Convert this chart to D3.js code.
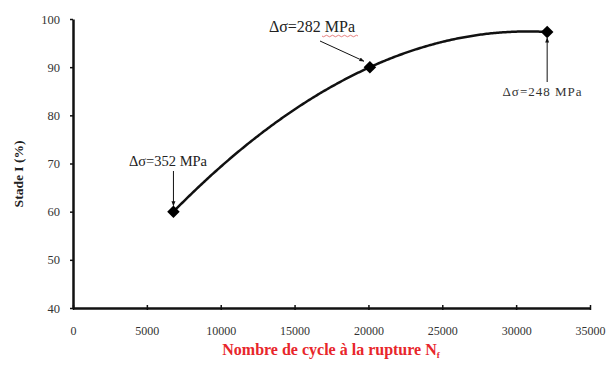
<!DOCTYPE html>
<html>
<head>
<meta charset="utf-8">
<script src="https://cdn.jsdelivr.net/npm/d3@7"></script>
<style>
  body { margin: 0; background: #fff; }
  svg text { font-family: "Liberation Serif", "Times New Roman", serif; }
</style>
</head>
<body>
<svg id="chart" width="607" height="365"></svg>
<script>
// data
const cycles = [6800, 20100, 32100];
const stage = [60, 90, 97.3];
const labels = ["\u0394\u03c3=352 MPa", "\u0394\u03c3=282 MPa", "\u0394\u03c3=248 MPa"];
const xTicks = [0, 5000, 10000, 15000, 20000, 25000, 30000, 35000];
const yTicks = [40, 50, 60, 70, 80, 90, 100];

const svg = d3.select("#chart");
const x = d3.scaleLinear().domain([0, 35000]).range([73, 590]);
const y = d3.scaleLinear().domain([40, 100]).range([308, 19]);

// axes
const xAxis = svg.append("g").attr("transform", `translate(0,${y(40)})`)
  .call(d3.axisBottom(x).tickValues(xTicks).tickFormat(d3.format("d"))
    .tickSize(4).tickSizeOuter(0).tickPadding(14));
const yAxis = svg.append("g").attr("transform", `translate(${x(0)},0)`)
  .call(d3.axisLeft(y).tickValues(yTicks).tickSize(3).tickSizeOuter(0).tickPadding(10));
[xAxis, yAxis].forEach(a => {
  a.select(".domain").attr("stroke", "#111").attr("stroke-width", 2.5);
  a.selectAll(".tick line").attr("stroke", "#111").attr("stroke-width", 1.5);
  a.selectAll(".tick text").attr("font-size", 12).attr("fill", "#333")
    .attr("font-family", "'Liberation Sans', Arial, sans-serif");
});
xAxis.selectAll(".tick line").attr("y1", -3).attr("y2", 2);
yAxis.selectAll(".tick text").attr("font-family", "'Liberation Serif', serif").attr("font-size", 12.5);

// axis titles
svg.append("text")
  .attr("transform", `translate(23,174) rotate(-90)`)
  .attr("text-anchor", "middle").attr("font-size", 13.5).attr("font-weight", "bold")
  .attr("fill", "#222").text("Stade I  (%)");
const xt = svg.append("text").attr("x", 331).attr("y", 355)
  .attr("text-anchor", "middle").attr("font-size", 16).attr("font-weight", "bold")
  .attr("fill", "#e8262b").text("Nombre de cycle \u00e0 la rupture N");
xt.append("tspan").attr("font-size", 9).attr("dy", 3).text("f");

// arrow marker
svg.append("defs").append("marker").attr("id", "arr")
  .attr("viewBox", "0 0 10 10").attr("refX", 9).attr("refY", 5)
  .attr("markerWidth", 5).attr("markerHeight", 5).attr("orient", "auto")
  .append("path").attr("d", "M0,1L10,5L0,9z").attr("fill", "#111");

// 2nd order polynomial trendline through the three points (as in the original)
const pts = cycles.map((c, i) => [c, stage[i]]);
function quad(xv) {
  // Lagrange form of the parabola through the data points
  let s = 0;
  for (let i = 0; i < 3; i++) {
    let t = stage[i];
    for (let j = 0; j < 3; j++) if (j !== i) t *= (xv - cycles[j]) / (cycles[i] - cycles[j]);
    s += t;
  }
  return s;
}
const trend = d3.range(cycles[0], cycles[2] + 1, 100).map(c => [c, quad(c)]);
svg.append("path").datum(trend)
  .attr("d", d3.line().x(d => x(d[0])).y(d => y(d[1])))
  .attr("fill", "none").attr("stroke", "#111").attr("stroke-width", 2.5);

// diamonds
svg.selectAll("path.pt").data(pts).join("path").attr("class", "pt")
  .attr("d", d3.symbol(d3.symbolDiamond2, 100)())
  .attr("transform", d => `translate(${x(d[0])},${y(d[1])})`)
  .attr("fill", "#000");

// annotations
const ann = svg.append("g");
// 352
ann.append("text").attr("x", 168).attr("y", 166).attr("text-anchor", "middle")
  .attr("font-size", 14.5).attr("fill", "#222").text(labels[0]);
ann.append("line").attr("x1", x(cycles[0])).attr("y1", 171)
  .attr("x2", x(cycles[0])).attr("y2", y(stage[0]) - 6)
  .attr("stroke", "#111").attr("stroke-width", 1).attr("marker-end", "url(#arr)");
// 282
ann.append("text").attr("x", 312).attr("y", 32).attr("text-anchor", "middle")
  .attr("font-size", 16).attr("fill", "#222").text(labels[1]);
ann.append("path").attr("d", "M322,36 q1.5,1.5 3,0 t3,0 t3,0 t3,0 t3,0 t3,0 t3,0 t3,0 t3,0 t3,0 t3,0 t3,0")
  .attr("fill", "none").attr("stroke", "#e06060").attr("stroke-width", 0.8);
ann.append("line").attr("x1", 320).attr("y1", 41)
  .attr("x2", x(cycles[1]) - 6).attr("y2", y(stage[1]) - 6)
  .attr("stroke", "#111").attr("stroke-width", 1).attr("marker-end", "url(#arr)");
// 248
ann.append("text").attr("x", 542).attr("y", 96).attr("text-anchor", "middle")
  .attr("font-size", 13).attr("fill", "#333").attr("textLength", 79)
  .attr("font-family", "'Liberation Sans', Arial, sans-serif").text(labels[2]);
ann.append("line").attr("x1", x(cycles[2])).attr("y1", 82)
  .attr("x2", x(cycles[2])).attr("y2", y(stage[2]) + 6)
  .attr("stroke", "#111").attr("stroke-width", 1).attr("marker-end", "url(#arr)");
</script>
</body>
</html>
